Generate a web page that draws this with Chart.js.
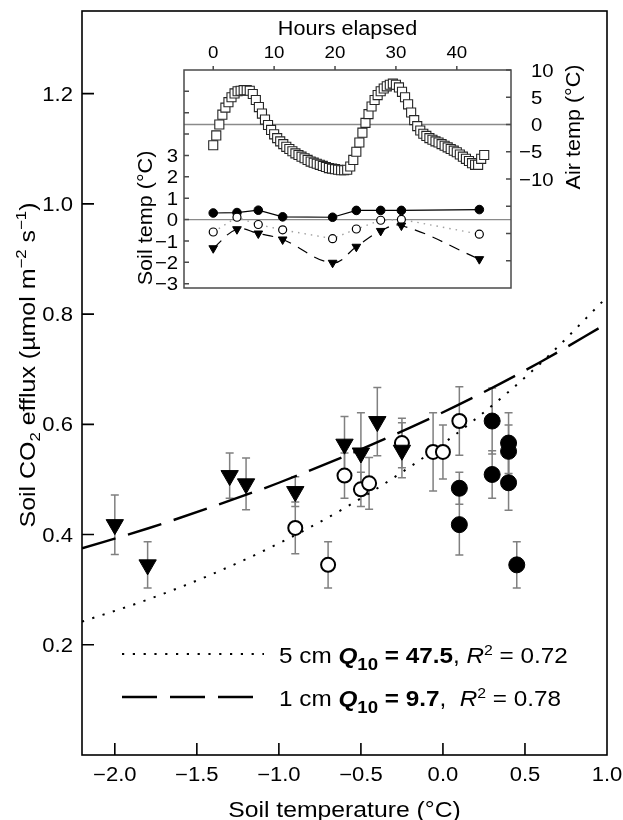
<!DOCTYPE html>
<html>
<head>
<meta charset="utf-8">
<script src="https://cdn.jsdelivr.net/npm/chart.js@4/dist/chart.umd.min.js"></script>
<style>
html,body{margin:0;padding:0;background:#fff;}
#wrap{position:relative;width:623px;height:820px;overflow:hidden;}
#wrap canvas{position:absolute;left:0;top:0;}
</style>
</head>
<body>
<div id="wrap">
<canvas id="main" width="623" height="820"></canvas>
<canvas id="inset" width="623" height="820"></canvas>
</div>
<script>
// ---------------- MAIN CHART DATA ----------------
// 1 cm depth (filled down-triangles)
const tri1cmX   = [-2.0, -1.8, -1.3, -1.2, -0.9, -0.6, -0.5, -0.4, -0.25];
const tri1cmY   = [0.418, 0.345, 0.507, 0.492, 0.478, 0.564, 0.548, 0.605, 0.553];
const tri1cmErr = [0.054, 0.042, 0.041, 0.047, 0.027, 0.050, 0.073, 0.062, 0.050];
// 5 cm depth (open circles)
const open5cmX   = [-0.9, -0.7, -0.6, -0.5, -0.45, -0.25, -0.06, 0.0, 0.1];
const open5cmY   = [0.412, 0.345, 0.507, 0.482, 0.493, 0.566, 0.550, 0.550, 0.606];
const open5cmErr = [0.047, 0.042, 0.041, 0.031, 0.047, 0.045, 0.071, 0.049, 0.062];
// surface (filled circles)
const surfX   = [0.1, 0.1, 0.3, 0.3, 0.4, 0.4, 0.4, 0.45];
const surfY   = [0.484, 0.418, 0.606, 0.509, 0.566, 0.551, 0.494, 0.345];
const surfErr = [0.029, 0.055, 0.060, 0.043, 0.055, 0.048, 0.050, 0.042];
// fitted curves
const fitX      = [-2.2, -1.8, -1.4, -1.0, -0.6, -0.2, 0.2, 0.6, 1.0];
const fit1cmY   = [0.375, 0.411, 0.451, 0.494, 0.542, 0.594, 0.651, 0.714, 0.783];
const fit5cmY   = [0.242, 0.282, 0.329, 0.384, 0.448, 0.523, 0.610, 0.712, 0.831];
// axes
const xTicks      = [-2.0, -1.5, -1.0, -0.5, 0.0, 0.5];
const xTickLabels = [-2.0, -1.5, -1.0, -0.5, 0.0, 0.5, 1.0];
const yTicks      = [0.2, 0.4, 0.6, 0.8, 1.0, 1.2];
const xTitle = 'Soil temperature (°C)';
const legendRows = [
  {depth: '5 cm ', q10: '47.5', sep: ', ',  r2: '0.72'},
  {depth: '1 cm ', q10: '9.7',  sep: ',  ', r2: '0.78'}
];

// ---------------- INSET DATA ----------------
const airHours = [0,0.5,1,1.5,2,2.5,3,3.5,4,4.5,5,5.5,6,6.5,7,7.5,8,8.5,9,9.5,10,10.5,11,11.5,12,12.5,13,13.5,14,14.5,15,15.5,16,16.5,17,17.5,18,18.5,19,19.5,20,20.5,21,21.5,22,22.5,23,23.5,24,24.5,25,25.5,26,26.5,27,27.5,28,28.5,29,29.5,30,30.5,31,31.5,32,32.5,33,33.5,34,34.5,35,35.5,36,36.5,37,37.5,38,38.5,39,39.5,40,40.5,41,41.5,42,42.5,43,43.5,44,44.5];
const airTemp  = [-3.8,-2.0,0.0,1.8,3.1,4.1,5.0,5.7,6.1,6.2,6.3,6.3,6.2,5.6,4.5,3.2,2.0,0.9,-0.1,-1.0,-1.8,-2.5,-3.1,-3.6,-4.1,-4.5,-4.9,-5.3,-5.6,-5.9,-6.2,-6.5,-6.8,-7.0,-7.2,-7.4,-7.6,-7.8,-8.0,-8.1,-8.2,-8.3,-8.4,-8.4,-8.3,-7.7,-6.5,-5.0,-3.3,-1.5,0.3,1.9,3.3,4.5,5.4,6.1,6.6,7.0,7.3,7.5,7.3,6.8,6.0,5.0,3.7,2.2,0.8,-0.3,-1.1,-1.7,-2.1,-2.5,-2.8,-3.1,-3.3,-3.6,-3.9,-4.2,-4.5,-4.8,-5.1,-5.5,-5.9,-6.3,-6.7,-7.1,-7.4,-7.4,-6.3,-5.6];
const soilHours = [0, 3.9, 7.4, 11.4, 19.6, 23.5, 27.5, 30.9, 43.7];
const soilSurf  = [0.31, 0.33, 0.44, 0.13, 0.11, 0.43, 0.43, 0.43, 0.47];
const soil5cm   = [-0.58, 0.11, -0.23, -0.48, -0.89, -0.44, -0.03, 0.01, -0.68];
const soil1cm   = [-1.34, -0.45, -0.65, -0.93, -2.02, -1.27, -0.53, -0.28, -1.85];
const hourTicks = [0, 10, 20, 30, 40];
const soilTickMarks  = [-3, -2, -1, 0, 1, 2, 3, 4, 5, 6];
const soilTickLabels = [-3, -2, -1, 0, 1, 2, 3];
const airTickMarks   = [-25, -20, -15, -10, -5, 0, 5, 10];
const airTickLabels  = [-10, -5, 0, 5, 10];

// ---------------- helpers ----------------
const FAM = '"Liberation Sans", Arial, Helvetica, sans-serif';
const F = (size, style) => (style ? style + ' ' : '') + size + 'px ' + FAM;
const MINUS = '\u2212';
const fmt1 = v => (v < 0 ? MINUS : '') + Math.abs(v).toFixed(1);

function drawRuns(ctx, runs, x, y, align, sx, rot) {
  ctx.save();
  let w = 0;
  for (const r of runs) { ctx.font = r.font; r.w = ctx.measureText(r.t).width; w += r.w; }
  const start = align === 'center' ? -w / 2 : (align === 'right' ? -w : 0);
  ctx.translate(x, y);
  if (rot) ctx.rotate(rot);
  ctx.scale(sx, 1);
  ctx.textAlign = 'left';
  ctx.textBaseline = 'alphabetic';
  ctx.fillStyle = '#000';
  let cx = start;
  for (const r of runs) { ctx.font = r.font; ctx.fillText(r.t, cx, r.dy || 0); cx += r.w; }
  ctx.restore();
}
const pts = (xs, ys) => xs.map((v, i) => ({x: v, y: ys[i]}));

// ---------------- MAIN CHART ----------------
const errSeries = [
  {xs: surfX, ys: surfY, es: surfErr},
  {xs: open5cmX, ys: open5cmY, es: open5cmErr},
  {xs: tri1cmX, ys: tri1cmY, es: tri1cmErr}
];

const mainDecor = {
  id: 'mainDecor',
  beforeDatasetsDraw(chart) {
    const {ctx, scales: {x, y}} = chart;
    ctx.save();
    ctx.strokeStyle = '#808080';
    ctx.lineWidth = 1.5;
    for (const s of errSeries) {
      s.xs.forEach((xv, i) => {
        const px = x.getPixelForValue(xv);
        const t = y.getPixelForValue(s.ys[i] + s.es[i]);
        const b = y.getPixelForValue(s.ys[i] - s.es[i]);
        ctx.beginPath();
        ctx.moveTo(px, t); ctx.lineTo(px, b);
        ctx.moveTo(px - 4, t); ctx.lineTo(px + 4, t);
        ctx.moveTo(px - 4, b); ctx.lineTo(px + 4, b);
        ctx.stroke();
      });
    }
    ctx.restore();
  },
  afterDatasetsDraw(chart) {
    const {ctx, chartArea: a, scales: {x, y}} = chart;
    ctx.save();
    ctx.strokeStyle = '#000';
    ctx.lineWidth = 1.6;
    ctx.strokeRect(a.left, a.top, a.right - a.left, a.bottom - a.top);
    ctx.beginPath();
    for (const v of yTicks) {
      const py = y.getPixelForValue(v);
      ctx.moveTo(a.left, py); ctx.lineTo(a.left + 12, py);
    }
    for (const v of xTicks) {
      const px = x.getPixelForValue(v);
      ctx.moveTo(px, a.bottom); ctx.lineTo(px, a.bottom - 12);
    }
    ctx.stroke();
    ctx.restore();
    const TS = 19.5, SX = 1.13;
    for (const v of yTicks) {
      drawRuns(ctx, [{t: fmt1(v), font: F(TS)}], 73, y.getPixelForValue(v) + TS * 0.358, 'right', SX);
    }
    for (const v of xTickLabels) {
      drawRuns(ctx, [{t: fmt1(v), font: F(TS)}], x.getPixelForValue(v), 780.5, 'center', SX);
    }
    // axis titles
    drawRuns(ctx, [{t: xTitle, font: F(21.5)}], (a.left + a.right) / 2, 816.5, 'center', 1.15);
    const yt = [
      {t: 'Soil CO', font: F(21.5)},
      {t: '2', font: F(14.5), dy: 5},
      {t: ' efflux (µmol m', font: F(21.5)},
      {t: MINUS + '2', font: F(14.5), dy: -9},
      {t: ' s', font: F(21.5)},
      {t: MINUS + '1', font: F(14.5), dy: -9},
      {t: ')', font: F(21.5)}
    ];
    drawRuns(ctx, yt, 35, 365, 'center', 1.16, -Math.PI / 2);
    // legend
    ctx.save();
    ctx.strokeStyle = '#000';
    ctx.lineWidth = 2;
    ctx.setLineDash([2.2, 8.6]);
    ctx.beginPath(); ctx.moveTo(122, 654); ctx.lineTo(264, 654); ctx.stroke();
    ctx.lineWidth = 2.4;
    ctx.setLineDash([35, 13]);
    ctx.beginPath(); ctx.moveTo(122, 697); ctx.lineTo(255, 697); ctx.stroke();
    ctx.restore();
    const LS = 21.5;
    legendRows.forEach((r, i) => {
      const base = i === 0 ? 662.5 : 705.5;
      drawRuns(ctx, [
        {t: r.depth, font: F(LS)},
        {t: 'Q', font: F(LS, 'italic bold')},
        {t: '10', font: F(16.5, 'bold'), dy: 7.5},
        {t: ' = ' + r.q10, font: F(LS, 'bold')},
        {t: r.sep, font: F(LS)},
        {t: 'R', font: F(LS, 'italic')},
        {t: '2', font: F(14), dy: -8},
        {t: ' = ' + r.r2, font: F(LS)}
      ], 279, base, 'left', 1.13);
    });
  }
};

new Chart(document.getElementById('main'), {
  type: 'scatter',
  data: {
    datasets: [
      {label: '1 cm', data: pts(tri1cmX, tri1cmY), pointStyle: 'triangle', pointRotation: 180,
       pointRadius: 10, pointBackgroundColor: '#000', pointBorderColor: '#000', pointBorderWidth: 1},
      {label: '5 cm', data: pts(open5cmX, open5cmY), pointStyle: 'circle',
       pointRadius: 7, pointBackgroundColor: '#fff', pointBorderColor: '#000', pointBorderWidth: 2},
      {label: 'surface', data: pts(surfX, surfY), pointStyle: 'circle',
       pointRadius: 8, pointBackgroundColor: '#000', pointBorderColor: '#000', pointBorderWidth: 1},
      {label: 'fit 1 cm', data: pts(fitX, fit1cmY), showLine: true, pointRadius: 0,
       borderColor: '#000', borderWidth: 2.4, borderDash: [35, 13], cubicInterpolationMode: 'monotone'},
      {label: 'fit 5 cm', data: pts(fitX, fit5cmY), showLine: true, pointRadius: 0,
       borderColor: '#000', borderWidth: 2, borderDash: [2.2, 8.6], cubicInterpolationMode: 'monotone'}
    ]
  },
  options: {
    responsive: false, animation: false, devicePixelRatio: 1, events: [],
    layout: {padding: {left: 82, right: 16, top: 1, bottom: 65}},
    plugins: {legend: {display: false}, tooltip: {enabled: false}},
    scales: {
      x: {type: 'linear', min: -2.2, max: 1.0, display: false},
      y: {type: 'linear', min: 0, max: 1.35, display: false}
    }
  },
  plugins: [mainDecor]
});

// ---------------- INSET CHART ----------------
const insetDecor = {
  id: 'insetDecor',
  beforeDraw(chart) {
    const {ctx, chartArea: a} = chart;
    ctx.save(); ctx.fillStyle = '#fff';
    ctx.fillRect(a.left, a.top, a.right - a.left, a.bottom - a.top);
    ctx.restore();
  },
  beforeDatasetsDraw(chart) {
    const {ctx, chartArea: a, scales} = chart;
    ctx.save();
    ctx.strokeStyle = '#8a8a8a'; ctx.lineWidth = 1.3;
    ctx.beginPath();
    const y0a = scales.yA.getPixelForValue(0), y0s = scales.yS.getPixelForValue(0);
    ctx.moveTo(a.left, y0a); ctx.lineTo(a.right, y0a);
    ctx.moveTo(a.left, y0s); ctx.lineTo(a.right, y0s);
    ctx.stroke();
    ctx.restore();
  },
  afterDatasetsDraw(chart) {
    const {ctx, chartArea: a, scales} = chart;
    const {x, yS, yA} = scales;
    ctx.save();
    ctx.strokeStyle = '#4a4a4a'; ctx.lineWidth = 1.5;
    ctx.strokeRect(a.left, a.top, a.right - a.left, a.bottom - a.top);
    ctx.beginPath();
    for (const v of hourTicks) { const px = x.getPixelForValue(v); ctx.moveTo(px, a.top); ctx.lineTo(px, a.top - 4); }
    for (const v of soilTickMarks) { const py = yS.getPixelForValue(v); ctx.moveTo(a.left, py); ctx.lineTo(a.left + 5, py); }
    for (const v of airTickMarks) { const py = yA.getPixelForValue(v); ctx.moveTo(a.right, py); ctx.lineTo(a.right - 5, py); }
    ctx.stroke();
    ctx.restore();
    const S1 = 17, S2 = 18.5, SX = 1.1;
    for (const v of hourTicks) drawRuns(ctx, [{t: String(v), font: F(S1)}], x.getPixelForValue(v), 58, 'center', SX);
    drawRuns(ctx, [{t: 'Hours elapsed', font: F(20)}], (a.left + a.right) / 2, 35, 'center', 1.08);
    for (const v of soilTickLabels) {
      const py = yS.getPixelForValue(v) + S2 * 0.358;
      drawRuns(ctx, [{t: String(Math.abs(v)), font: F(S2)}], 178, py, 'right', SX);
      if (v < 0) drawRuns(ctx, [{t: MINUS, font: F(S2)}], 167, py, 'right', SX);
    }
    for (const v of airTickLabels) {
      const py = yA.getPixelForValue(v) + S2 * 0.358;
      drawRuns(ctx, [{t: String(Math.abs(v)), font: F(S2)}], 531, py, 'left', SX);
      if (v < 0) drawRuns(ctx, [{t: MINUS, font: F(S2)}], 531, py, 'right', SX);
    }
    drawRuns(ctx, [{t: 'Air temp (°C)', font: F(20)}], 580, 127, 'center', 1.08, -Math.PI / 2);
    drawRuns(ctx, [{t: 'Soil temp (°C)', font: F(20)}], 152, 218, 'center', 1.08, -Math.PI / 2);
  }
};

new Chart(document.getElementById('inset'), {
  type: 'scatter',
  data: {
    datasets: [
      {label: '1 cm', data: pts(soilHours, soil1cm), xAxisID: 'x', yAxisID: 'yS', showLine: true, tension: 0.4,
       borderColor: '#000', borderWidth: 1.2, borderDash: [11, 8],
       pointStyle: 'triangle', pointRotation: 180, pointRadius: 5, pointBackgroundColor: '#000', pointBorderColor: '#000', pointBorderWidth: 1},
      {label: '5 cm', data: pts(soilHours, soil5cm), xAxisID: 'x', yAxisID: 'yS', showLine: true,
       borderColor: '#a0a0a0', borderWidth: 1.4, borderDash: [1.5, 5],
       pointStyle: 'circle', pointRadius: 4, pointBackgroundColor: '#fff', pointBorderColor: '#000', pointBorderWidth: 1.2},
      {label: 'surface', data: pts(soilHours, soilSurf), xAxisID: 'x', yAxisID: 'yS', showLine: true,
       borderColor: '#000', borderWidth: 1.2,
       pointStyle: 'circle', pointRadius: 4.3, pointBackgroundColor: '#000', pointBorderColor: '#000', pointBorderWidth: 1},
      {label: 'air', data: pts(airHours, airTemp), xAxisID: 'x', yAxisID: 'yA', showLine: false,
       pointStyle: 'rect', pointRadius: 6.4, pointBackgroundColor: '#fff', pointBorderColor: '#262626', pointBorderWidth: 1.1}
    ]
  },
  options: {
    responsive: false, animation: false, devicePixelRatio: 1, events: [],
    layout: {padding: {left: 184, right: 112, top: 70, bottom: 532}},
    plugins: {legend: {display: false}, tooltip: {enabled: false}},
    scales: {
      x:  {type: 'linear', position: 'top', min: -4.8, max: 48.9, display: false},
      yS: {type: 'linear', axis: 'y', position: 'left', min: -3.2, max: 7.0, display: false},
      yA: {type: 'linear', axis: 'y', position: 'right', min: -30, max: 10, display: false}
    }
  },
  plugins: [insetDecor]
});
</script>
</body>
</html>
